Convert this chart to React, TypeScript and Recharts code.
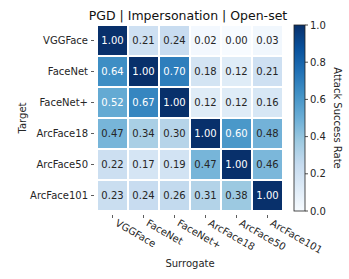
import { Scatter, ScatterChart, XAxis, YAxis } from 'recharts';

const surrogates = ['VGGFace', 'FaceNet', 'FaceNet+', 'ArcFace18', 'ArcFace50', 'ArcFace101'];
const targets = ['VGGFace', 'FaceNet', 'FaceNet+', 'ArcFace18', 'ArcFace50', 'ArcFace101'];

const rowVGGFace = [1.0, 0.21, 0.24, 0.02, 0.0, 0.03];
const rowFaceNet = [0.64, 1.0, 0.7, 0.18, 0.12, 0.21];
const rowFaceNetPlus = [0.52, 0.67, 1.0, 0.12, 0.12, 0.16];
const rowArcFace18 = [0.47, 0.34, 0.3, 1.0, 0.6, 0.48];
const rowArcFace50 = [0.22, 0.17, 0.19, 0.47, 1.0, 0.46];
const rowArcFace101 = [0.23, 0.24, 0.26, 0.31, 0.38, 1.0];

const colorbarTicks = [0, 0.2, 0.4, 0.6, 0.8, 1.0];

const rows = [rowVGGFace, rowFaceNet, rowFaceNetPlus, rowArcFace18, rowArcFace50, rowArcFace101];

const W = 349;
const H = 279;
const M = { top: 25, right: 66, left: 0, bottom: 0 };
const Y_W = 97;
const X_H = 68;
const plotW = W - M.left - M.right - Y_W;
const plotH = H - M.top - M.bottom - X_H;
const cellW = plotW / surrogates.length;
const cellH = plotH / targets.length;

// matplotlib "Blues"
const blues = ['#f7fbff', '#deebf7', '#c6dbef', '#9ecae1', '#6baed6', '#4292c6', '#2171b5', '#08519c', '#08306b'];

function hex(c: string) {
  return [1, 3, 5].map((i) => parseInt(c.slice(i, i + 2), 16));
}

function bluesColor(v: number) {
  const t = Math.max(0, Math.min(1, v)) * (blues.length - 1);
  const i = Math.min(Math.floor(t), blues.length - 2);
  const f = t - i;
  const a = hex(blues[i]);
  const b = hex(blues[i + 1]);
  const c = a.map((x, k) => Math.round(x + (b[k] - x) * f));
  return `rgb(${c[0]},${c[1]},${c[2]})`;
}

const data = rows.flatMap((row, r) =>
  row.map((value, c) => ({ x: c + 0.5, y: r + 0.5, value }))
);

const font = 'DejaVu Sans, sans-serif';

function Cell(props: any) {
  const { cx, cy, payload } = props;
  const v = payload.value as number;
  return (
    <g>
      <rect
        x={cx - cellW / 2 + 1}
        y={cy - cellH / 2 + 1}
        width={cellW - 2}
        height={cellH - 2}
        fill={bluesColor(v)}
      />
      <text
        x={cx}
        y={cy}
        dy="0.36em"
        textAnchor="middle"
        fontSize={10}
        fontFamily={font}
        fill={v > 0.5 ? '#ffffff' : '#262626'}
      >
        {v.toFixed(2)}
      </text>
    </g>
  );
}

function XTick(props: any) {
  const { x, y, payload } = props;
  const label = surrogates[Math.floor(payload.value)];
  const tx = x + 2;
  const ty = y + 6;
  return (
    <g>
      <line x1={x} y1={y - 4} x2={x} y2={y - 1} stroke="#333" strokeWidth={0.8} />
      <text
        x={tx}
        y={ty}
        transform={`rotate(30, ${tx}, ${ty})`}
        textAnchor="start"
        fontSize={10}
        fontFamily={font}
        fill="#262626"
      >
        {label}
      </text>
    </g>
  );
}

function YTick(props: any) {
  const { x, y, payload } = props;
  const label = targets[Math.floor(payload.value)];
  return (
    <g>
      <line x1={x + 2} y1={y} x2={x + 5} y2={y} stroke="#333" strokeWidth={0.8} />
      <text x={x - 1} y={y} dy="0.36em" textAnchor="end" fontSize={10} fontFamily={font} fill="#262626">
        {label}
      </text>
    </g>
  );
}

const cbX = 294;
const cbW = 11;
const cbTop = M.top;
const cbBottom = M.top + plotH;

export default function App() {
  const ticks = surrogates.map((_, i) => i + 0.5);
  return (
    <div style={{ position: 'absolute', left: 0, top: 0, width: W, height: H, background: '#fff' }}>
      <ScatterChart width={W} height={H} margin={M}>
        <XAxis
          type="number"
          dataKey="x"
          domain={[0, surrogates.length]}
          ticks={ticks}
          tick={<XTick />}
          tickLine={false}
          axisLine={false}
          height={X_H}
          interval={0}
        />
        <YAxis
          type="number"
          dataKey="y"
          domain={[0, targets.length]}
          ticks={ticks}
          reversed
          tick={<YTick />}
          tickLine={false}
          axisLine={false}
          width={Y_W}
          interval={0}
        />
        <Scatter data={data} shape={<Cell />} isAnimationActive={false} />
      </ScatterChart>
      <svg width={W} height={H} style={{ position: 'absolute', left: 0, top: 0, pointerEvents: 'none' }}>
        <defs>
          <linearGradient id="cb" x1="0" y1="1" x2="0" y2="0">
            {blues.map((c, i) => (
              <stop key={i} offset={i / (blues.length - 1)} stopColor={c} />
            ))}
          </linearGradient>
        </defs>
        <text x={188} y={20} textAnchor="middle" fontSize={12.5} fontFamily={font} fill="#111">
          PGD | Impersonation | Open-set
        </text>
        <text
          x={26}
          y={M.top + plotH / 2}
          transform={`rotate(-90, 26, ${M.top + plotH / 2})`}
          textAnchor="middle"
          fontSize={10}
          fontFamily={font}
          fill="#262626"
        >
          Target
        </text>
        <text x={M.left + Y_W + plotW / 2} y={267} textAnchor="middle" fontSize={10} fontFamily={font} fill="#262626">
          Surrogate
        </text>
        <rect x={cbX} y={cbTop} width={cbW} height={cbBottom - cbTop} fill="url(#cb)" stroke="#222" strokeWidth={0.8} />
        {colorbarTicks.map((t) => {
          const y = cbBottom - t * (cbBottom - cbTop);
          return (
            <g key={t}>
              <line x1={cbX + cbW} y1={y} x2={cbX + cbW + 3} y2={y} stroke="#222" strokeWidth={0.8} />
              <text x={cbX + cbW + 5} y={y} dy="0.36em" fontSize={10} fontFamily={font} fill="#262626">
                {t.toFixed(1)}
              </text>
            </g>
          );
        })}
        <text
          x={334}
          y={M.top + plotH / 2}
          transform={`rotate(90, 334, ${M.top + plotH / 2})`}
          textAnchor="middle"
          fontSize={10}
          fontFamily={font}
          fill="#262626"
        >
          Attack Success Rate
        </text>
      </svg>
    </div>
  );
}
